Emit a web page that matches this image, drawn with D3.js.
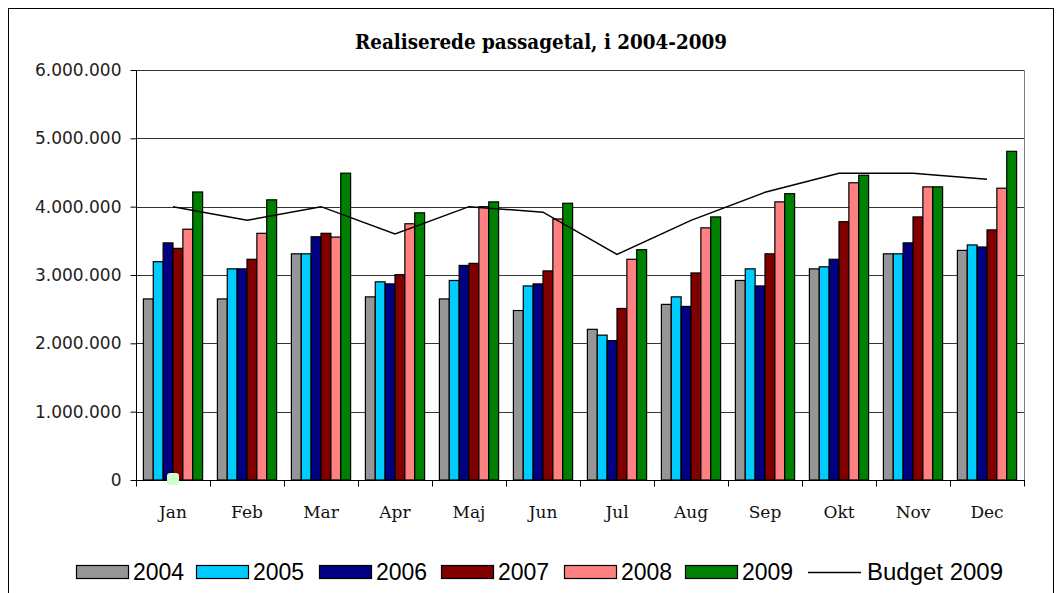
<!DOCTYPE html>
<html>
<head>
<meta charset="utf-8">
<script src="https://cdn.jsdelivr.net/npm/d3@7"></script>
<style>
  body { margin: 0; background: #fff; }
  svg { display: block; }
</style>
</head>
<body>
<script>
// passagertal pr. maaned, 2004-2009 + budget
var months = ["Jan", "Feb", "Mar", "Apr", "Maj", "Jun", "Jul", "Aug", "Sep", "Okt", "Nov", "Dec"];
var years = ["2004", "2005", "2006", "2007", "2008", "2009"];
var yearColors = ["#969696", "#00ccff", "#000080", "#800000", "#ff8080", "#008000"];

var v2004 = [2650000, 2650000, 3310000, 2680000, 2650000, 2480000, 2205000, 2570000, 2920000, 3090000, 3310000, 3360000];
var v2005 = [3195000, 3090000, 3310000, 2900000, 2920000, 2840000, 2120000, 2680000, 3090000, 3120000, 3310000, 3440000];
var v2006 = [3470000, 3090000, 3560000, 2870000, 3140000, 2870000, 2040000, 2540000, 2840000, 3230000, 3470000, 3410000];
var v2007 = [3390000, 3230000, 3610000, 3005000, 3170000, 3060000, 2510000, 3030000, 3310000, 3780000, 3850000, 3660000];
var v2008 = [3670000, 3610000, 3555000, 3750000, 4000000, 3820000, 3230000, 3690000, 4070000, 4350000, 4290000, 4270000];
var v2009 = [4215000, 4100000, 4490000, 3910000, 4070000, 4050000, 3370000, 3850000, 4190000, 4460000, 4290000, 4810000];
var budget2009 = [4000000, 3800000, 4000000, 3600000, 4000000, 3920000, 3300000, 3800000, 4210000, 4490000, 4490000, 4400000];
var yTicks = [0, 1000000, 2000000, 3000000, 4000000, 5000000, 6000000];

var series = [v2004, v2005, v2006, v2007, v2008, v2009];

var W = 1059, H = 593;
var plot = { left: 136, right: 1024, top: 70, bottom: 480 };

var svg = d3.select("body").append("svg")
    .attr("width", W)
    .attr("height", H);

// ydre ramme
svg.append("rect")
    .attr("x", 8.5).attr("y", 8.5)
    .attr("width", 1045).attr("height", 640)
    .attr("fill", "#fff")
    .attr("stroke", "#000")
    .attr("stroke-width", 1);

var x = d3.scaleBand()
    .domain(months)
    .range([plot.left, plot.right])
    .paddingInner(0.2)
    .paddingOuter(0.1);

var xi = d3.scaleBand()
    .domain(years)
    .range([0, x.bandwidth()]);

var y = d3.scaleLinear()
    .domain([0, 6000000])
    .range([plot.bottom, plot.top]);

// gitterlinjer
svg.append("g")
    .selectAll("line")
    .data(yTicks.slice(1))
    .enter()
    .append("line")
    .attr("x1", plot.left).attr("x2", plot.right)
    .attr("y1", d => Math.round(y(d)) + 0.5)
    .attr("y2", d => Math.round(y(d)) + 0.5)
    .attr("stroke", "#333")
    .attr("stroke-width", 1);

// hoejre kant af plotomraadet
svg.append("line")
    .attr("x1", plot.right + 0.5).attr("x2", plot.right + 0.5)
    .attr("y1", plot.top).attr("y2", plot.bottom)
    .attr("stroke", "#808080");

// soejler
var groups = svg.append("g")
    .selectAll("g")
    .data(months)
    .enter()
    .append("g")
    .attr("transform", d => "translate(" + x(d) + ",0)");

groups.selectAll("rect")
    .data((m, i) => series.map((s, k) => ({ year: years[k], value: s[i], color: yearColors[k] })))
    .enter()
    .append("rect")
    .attr("x", d => xi(d.year))
    .attr("y", d => y(d.value))
    .attr("width", xi.bandwidth())
    .attr("height", d => y(0) - y(d.value))
    .attr("fill", d => d.color)
    .attr("stroke", "#000")
    .attr("stroke-width", 1.2);

// budget-linje
var line = d3.line()
    .x((d, i) => x(months[i]) + x.bandwidth() / 2)
    .y(d => y(d));

svg.append("path")
    .datum(budget2009)
    .attr("d", line)
    .attr("fill", "none")
    .attr("stroke", "#000")
    .attr("stroke-width", 1.5);

// y-akse
var yAxis = d3.axisLeft(y)
    .tickValues(yTicks)
    .tickSize(6)
    .tickFormat(d => d3.format(",")(d).replace(/,/g, "."));

var gy = svg.append("g")
    .attr("transform", "translate(" + (plot.left + 0.5) + ",0)")
    .call(yAxis);
gy.select(".domain").attr("stroke", "#000").attr("d", "M0," + plot.top + "V" + plot.bottom);
gy.selectAll(".tick line").attr("stroke", "#000");
gy.selectAll(".tick text")
    .attr("x", -15)
    .attr("fill", "#222")
    .style("font-family", "'DejaVu Sans', Verdana, sans-serif")
    .style("font-size", "17px");

// x-akse
var step = x.step();
var gx = svg.append("g")
    .attr("transform", "translate(0," + (plot.bottom + 0.5) + ")");
gx.append("line")
    .attr("x1", plot.left).attr("x2", plot.right + 1)
    .attr("stroke", "#000");
gx.selectAll(".xt")
    .data(d3.range(months.length + 1))
    .enter()
    .append("line")
    .attr("class", "xt")
    .attr("x1", i => Math.round(plot.left + i * step) + 0.5)
    .attr("x2", i => Math.round(plot.left + i * step) + 0.5)
    .attr("y1", 0).attr("y2", 6)
    .attr("stroke", "#000");
gx.selectAll(".xl")
    .data(months)
    .enter()
    .append("text")
    .attr("class", "xl")
    .attr("x", d => x(d) + x.bandwidth() / 2)
    .attr("y", 37)
    .attr("text-anchor", "middle")
    .attr("fill", "#111")
    .style("font-family", "'DejaVu Serif', Georgia, serif")
    .style("font-size", "17px")
    .text(d => d);

// lille lysegroen markoer ved Jan
svg.append("rect")
    .attr("x", 167).attr("y", 473)
    .attr("width", 12).attr("height", 12)
    .attr("rx", 3)
    .attr("fill", "#ccffcc");

// titel
svg.append("text")
    .attr("x", 541)
    .attr("y", 49)
    .attr("text-anchor", "middle")
    .attr("textLength", 372)
    .attr("lengthAdjust", "spacingAndGlyphs")
    .style("font-family", "'DejaVu Serif', Georgia, serif")
    .style("font-weight", "bold")
    .style("font-size", "20px")
    .text("Realiserede passagetal, i 2004-2009");

// forklaring
var legendX = [76, 196, 319, 441, 564, 685];
var leg = svg.append("g");
years.forEach(function (yr, k) {
    leg.append("rect")
        .attr("x", legendX[k] + 0.5).attr("y", 565.5)
        .attr("width", 52).attr("height", 13)
        .attr("fill", yearColors[k])
        .attr("stroke", "#000")
        .attr("stroke-width", 1.2);
    leg.append("text")
        .attr("x", legendX[k] + 57)
        .attr("y", 580)
        .style("font-family", "'Liberation Sans', Arial, sans-serif")
        .style("font-size", "23px")
        .text(yr);
});
leg.append("line")
    .attr("x1", 808).attr("x2", 861)
    .attr("y1", 572.5).attr("y2", 572.5)
    .attr("stroke", "#000")
    .attr("stroke-width", 1.5);
leg.append("text")
    .attr("x", 867)
    .attr("y", 580)
    .attr("textLength", 136)
    .attr("lengthAdjust", "spacingAndGlyphs")
    .style("font-family", "'Liberation Sans', Arial, sans-serif")
    .style("font-size", "23px")
    .text("Budget 2009");
</script>
</body>
</html>
